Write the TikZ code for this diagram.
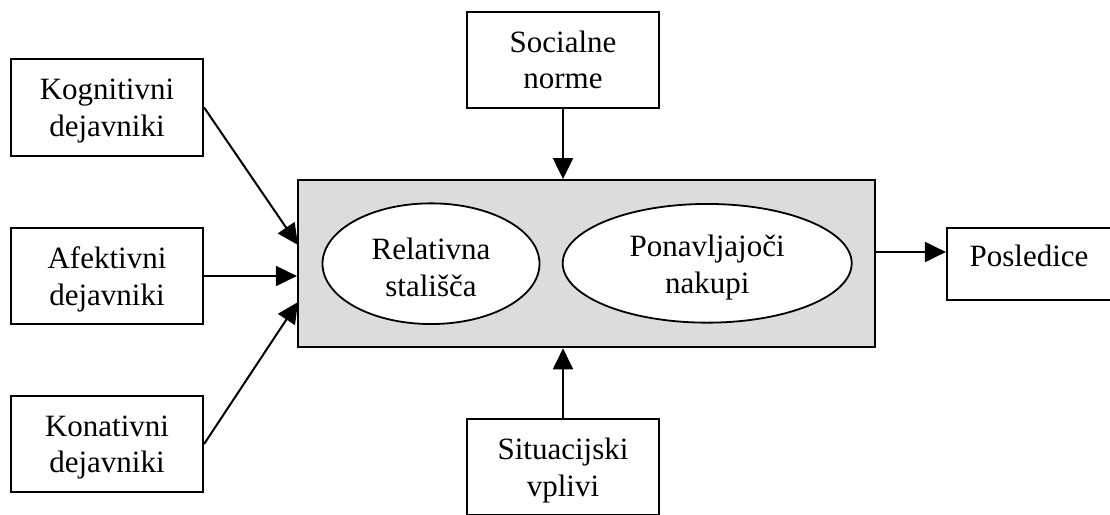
\documentclass[tikz,border=0pt]{standalone}
\usepackage{fontspec}
\setmainfont{Liberation Serif}
\usetikzlibrary{shapes.geometric,arrows.meta}
\definecolor{boxgray}{RGB}{220,220,220}
\tikzset{
  txt/.style={font=\fontsize{31}{36.5}\selectfont, align=center},
  plainbox/.style={txt, draw, line width=2.2pt, fill=white, inner sep=0pt, text depth=0pt},
  oval/.style={txt, ellipse, draw, line width=1.8pt, fill=white, inner sep=0pt, text depth=0pt},
  conn/.style={line width=2pt, -{Triangle[length=21pt,width=20pt]}}
}
\begin{document}
\begin{tikzpicture}[x=1pt,y=-1pt]
\useasboundingbox (0,0) rectangle (1110,514);
% central box
\node[draw, line width=2.2pt, fill=boxgray, minimum width=577pt, minimum height=167pt, inner sep=0pt] (central) at (586.5,263.7) {};
\node[oval, minimum width=217pt, minimum height=120.7pt, text height=65pt] (rel) at (431,263.7) {Relativna\\stališča};
\node[oval, minimum width=289pt, minimum height=118.7pt, text height=60pt] (pon) at (707.2,263.3) {Ponavljajoči\\nakupi};
% side boxes
\node[plainbox, minimum width=192pt, minimum height=97pt] (kog) at (107,107.5) {Kognitivni\\dejavniki};
\node[plainbox, minimum width=192pt, minimum height=96pt] (afe) at (107,276) {Afektivni\\dejavniki};
\node[plainbox, minimum width=192pt, minimum height=96pt] (kon) at (107,444) {Konativni\\dejavniki};
\node[plainbox, minimum width=192.6pt, minimum height=96pt] (soc) at (563,59.7) {Socialne\\norme};
\node[plainbox, minimum width=192pt, minimum height=96pt] (sit) at (563,467.3) {Situacijski\\vplivi};
\node[plainbox, minimum width=164pt, minimum height=72pt, text depth=16pt] (pos) at (1029,264) {Posledice};
% entry points on the central box
\coordinate (inK) at (298,245);
\coordinate (inC) at (298,302);
\coordinate (posIn) at ([yshift=12pt]pos.west);
% connectors
\draw[conn] (kog.east) -- (inK);
\draw[conn] (afe.east) -- (afe.east -| central.west);
\draw[conn] (kon.east) -- (inC);
\draw[conn] (soc.south) -- (soc.south |- central.north);
\draw[conn] (sit.north) -- (sit.north |- central.south);
\draw[conn] (central.east |- posIn) -- (posIn);
\end{tikzpicture}
\end{document}
